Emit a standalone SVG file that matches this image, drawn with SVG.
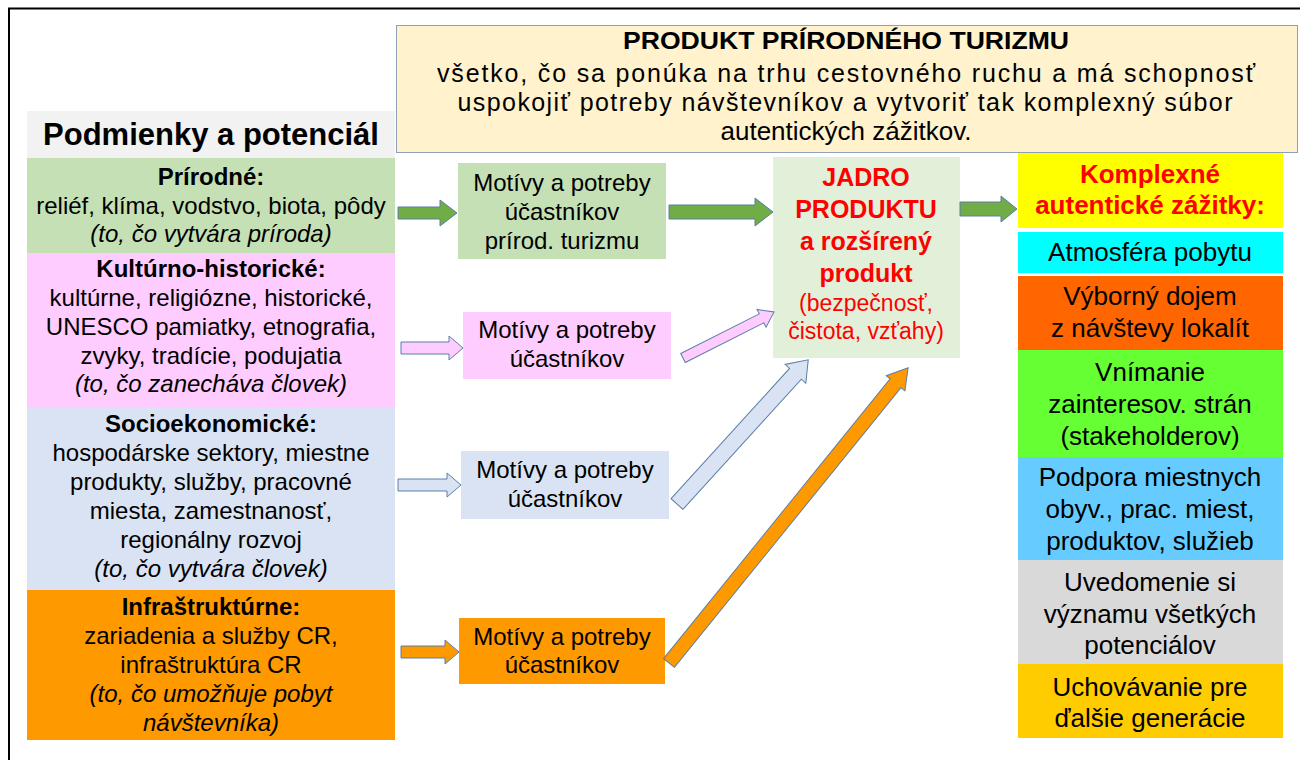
<svg xmlns="http://www.w3.org/2000/svg" width="1300" height="760" viewBox="0 0 1300 760">
<style>
text{font-family:"Liberation Sans",Arial,sans-serif;fill:#000;text-anchor:middle}
.b{font-weight:bold}
.i{font-style:italic}
.l{font-size:24px}
.m{font-size:24px}
.r{font-size:26px}
.red{fill:#ff0000}
.arr{stroke:#5b7fa6;stroke-width:1}
</style>
<rect x="0" y="0" width="1300" height="760" fill="#fff"/>
<path d="M9,760 V8.5 H1300" fill="none" stroke="#000" stroke-width="2"/>

<g id="top-product">
<rect x="396.5" y="25.5" width="901" height="127" fill="#fff2cc" stroke="#8ea0b8" stroke-width="1"/>
<text x="846" y="49" class="b" font-size="24" textLength="446" lengthAdjust="spacingAndGlyphs">PRODUKT PRÍRODNÉHO TURIZMU</text>
<text x="846" y="82" font-size="25" textLength="818" lengthAdjust="spacing">všetko, čo sa ponúka na trhu cestovného ruchu a má schopnosť</text>
<text x="845" y="111" font-size="25" textLength="775" lengthAdjust="spacing">uspokojiť potreby návštevníkov a vytvoriť tak komplexný súbor</text>
<text x="846" y="140" font-size="26">autentických zážitkov.</text>
</g>

<g id="header-left">
<rect x="27" y="111" width="368" height="47" fill="#f2f2f2"/>
<text x="211" y="145" class="b" font-size="31">Podmienky a potenciál</text>
</g>

<g id="prirodne">
<rect x="27" y="158" width="368" height="95" fill="#c5e0b4"/>
<text x="211" y="185" class="b l">Prírodné:</text>
<text x="211" y="214" class="l">reliéf, klíma, vodstvo, biota, pôdy</text>
<text x="211" y="242" class="i l">(to, čo vytvára príroda)</text>
</g>

<g id="kulturno">
<rect x="27" y="253" width="368" height="155" fill="#ffccff"/>
<text x="211" y="277" class="b l">Kultúrno-historické:</text>
<text x="211" y="306" class="l">kultúrne, religiózne, historické,</text>
<text x="211" y="335" class="l">UNESCO pamiatky, etnografia,</text>
<text x="211" y="364" class="l">zvyky, tradície, podujatia</text>
<text x="211" y="392" class="i l">(to, čo zanecháva človek)</text>
</g>

<g id="socio">
<rect x="27" y="408" width="368" height="182" fill="#dae3f3"/>
<text x="211" y="432" class="b l">Socioekonomické:</text>
<text x="211" y="461" class="l">hospodárske sektory, miestne</text>
<text x="211" y="490" class="l">produkty, služby, pracovné</text>
<text x="211" y="519" class="l">miesta, zamestnanosť,</text>
<text x="211" y="548" class="l">regionálny rozvoj</text>
<text x="211" y="577" class="i l">(to, čo vytvára človek)</text>
</g>

<g id="infra">
<rect x="27" y="590" width="368" height="150" fill="#ff9900"/>
<text x="211" y="615" class="b l">Infraštruktúrne:</text>
<text x="211" y="644" class="l">zariadenia a služby CR,</text>
<text x="211" y="673" class="l">infraštruktúra CR</text>
<text x="211" y="702" class="i l">(to, čo umožňuje pobyt</text>
<text x="211" y="731" class="i l">návštevníka)</text>
</g>

<g id="motiv-green">
<rect x="458" y="163" width="208" height="96" fill="#c5e0b4"/>
<text x="562" y="191" class="m">Motívy a potreby</text>
<text x="562" y="220" class="m">účastníkov</text>
<text x="562" y="249" class="m">prírod. turizmu</text>
</g>

<g id="motiv-pink">
<rect x="463" y="312" width="208" height="67" fill="#ffccff"/>
<text x="567" y="338" class="m">Motívy a potreby</text>
<text x="567" y="367" class="m">účastníkov</text>
</g>

<g id="motiv-blue">
<rect x="461" y="451" width="208" height="68" fill="#dae3f3"/>
<text x="565" y="478" class="m">Motívy a potreby</text>
<text x="565" y="507" class="m">účastníkov</text>
</g>

<g id="motiv-orange">
<rect x="459" y="618" width="206" height="66" fill="#ff9900"/>
<text x="562" y="645" class="m">Motívy a potreby</text>
<text x="562" y="673" class="m">účastníkov</text>
</g>

<g id="jadro">
<rect x="773" y="157" width="187" height="201" fill="#e2f0d9"/>
<text x="866" y="186" class="b red" font-size="25">JADRO</text>
<text x="866" y="218" class="b red" font-size="25">PRODUKTU</text>
<text x="866" y="250" class="b red" font-size="25">a rozšírený</text>
<text x="866" y="282" class="b red" font-size="25">produkt</text>
<text x="866" y="311" class="red" font-size="23">(bezpečnosť,</text>
<text x="866" y="339" class="red" font-size="23">čistota, vzťahy)</text>
</g>

<g id="komplexne">
<rect x="1018" y="153" width="265" height="75" fill="#ffff00"/>
<text x="1150" y="183" class="b red r">Komplexné</text>
<text x="1150" y="214" class="b red r">autentické zážitky:</text>
</g>
<g id="atmosfera">
<rect x="1018" y="232" width="265" height="41" fill="#00ffff"/>
<text x="1150" y="261" class="r">Atmosféra pobytu</text>
</g>
<g id="dojem">
<rect x="1018" y="276" width="265" height="74" fill="#ff6600"/>
<text x="1150" y="305" class="r">Výborný dojem</text>
<text x="1150" y="337" class="r">z návštevy lokalít</text>
</g>
<g id="vnimanie">
<rect x="1018" y="350" width="265" height="107" fill="#66ff33"/>
<text x="1150" y="381" class="r">Vnímanie</text>
<text x="1150" y="413" class="r">zainteresov. strán</text>
<text x="1150" y="445" class="r">(stakeholderov)</text>
</g>
<g id="podpora">
<rect x="1018" y="457" width="265" height="103" fill="#66ccff"/>
<text x="1150" y="486" class="r">Podpora miestnych</text>
<text x="1150" y="518" class="r">obyv., prac. miest,</text>
<text x="1150" y="550" class="r">produktov, služieb</text>
</g>
<g id="uvedomenie">
<rect x="1018" y="560" width="265" height="104" fill="#d9d9d9"/>
<text x="1150" y="591" class="r">Uvedomenie si</text>
<text x="1150" y="623" class="r">významu všetkých</text>
<text x="1150" y="654" class="r">potenciálov</text>
</g>
<g id="uchovavanie">
<rect x="1018" y="664" width="265" height="74" fill="#ffcc00"/>
<text x="1150" y="696" class="r">Uchovávanie pre</text>
<text x="1150" y="727" class="r">ďalšie generácie</text>
</g>

<g id="connectors">
<polygon class="arr" fill="#70ad47" transform="translate(398,213)" points="0,-6 42,-6 42,-13 59,0 42,13 42,6 0,6"/>
<polygon class="arr" fill="#70ad47" transform="translate(669,212)" points="0,-7 86,-7 86,-14 104,0 86,14 86,7 0,7"/>
<polygon class="arr" fill="#70ad47" transform="translate(960,209)" points="0,-7 41,-7 41,-13 57,0 41,13 41,7 0,7"/>
<polygon class="arr" fill="#ffccff" transform="translate(401,348)" points="0,-6 48,-6 48,-12 62,0 48,12 48,6 0,6"/>
<polygon class="arr" fill="#dae3f3" transform="translate(398,485)" points="0,-6 49,-6 49,-12 63,0 49,12 49,6 0,6"/>
<polygon class="arr" fill="#ff9900" transform="translate(401,652)" points="0,-6 44,-6 44,-12 58,0 44,12 44,6 0,6"/>
<polygon class="arr" fill="#ffccff" transform="translate(683,358) rotate(-26.8)" points="0,-5 88,-5 88,-10 102,0 88,10 88,5 0,5"/>
<polygon class="arr" fill="#dae3f3" transform="translate(677,504) rotate(-47.7)" points="0,-8 176,-8 176,-14 195,0 176,14 176,8 0,8"/>
<polygon class="arr" fill="#ff9900" transform="translate(669,663) rotate(-51)" points="0,-7 360,-7 360,-12 380,0 360,12 360,7 0,7"/>
</g>
</svg>
